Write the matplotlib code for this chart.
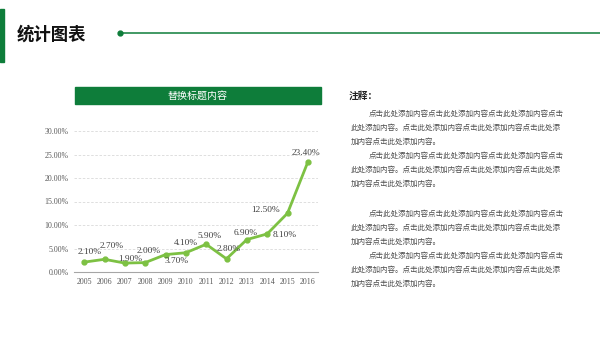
import matplotlib.pyplot as plt
from matplotlib.lines import Line2D
from matplotlib.patches import Rectangle

plt.rcParams["font.family"] = ["Noto Sans CJK SC", "DejaVu Sans"]

DARK_GREEN = "#0E7D3A"
LINE_GREEN = "#7DC143"
GREY_TXT = "#595959"

years = ["2005", "2006", "2007", "2008", "2009", "2010",
         "2011", "2012", "2013", "2014", "2015", "2016"]
rates = [2.1, 2.7, 1.9, 2.0, 3.7, 4.1, 5.9, 2.8, 6.9, 8.1, 12.5, 23.4]
rate_labels = ["2.10%", "2.70%", "1.90%", "2.00%", "3.70%", "4.10%",
               "5.90%", "2.80%", "6.90%", "8.10%", "12.50%", "23.40%"]
y_ticks = [0, 5, 10, 15, 20, 25, 30]

title = "统计图表"
chart_title = "替换标题内容"
note_head = "注释："
para_lines = [
    "点击此处添加内容点击此处添加内容点击此处添加内容点击",
    "此处添加内容。点击此处添加内容点击此处添加内容点击此处添",
    "加内容点击此处添加内容。",
]

# label offsets in pixels (dx, dy) relative to each point
offsets = [(6, 10), (7, 13), (5, 4), (4, 12), (11, -6), (0, 10),
           (3, 8), (2, 10), (-1, 7), (18, -1), (-22, 3), (-2, 9)]

W, H = 600, 338
fig = plt.figure(figsize=(6, 3.38), dpi=100)


def fx(px):
    return px / W


def fy(py):
    return 1 - py / H


# header
fig.patches.append(Rectangle((0, fy(62)), fx(4), (62 - 9) / H,
                             transform=fig.transFigure, color=DARK_GREEN))
fig.text(fx(17), fy(35), title, fontsize=12.5, fontweight="bold",
         va="center", ha="left", color="#111111")
fig.lines.append(Line2D([fx(120), 1], [fy(33), fy(33)], transform=fig.transFigure,
                        color=DARK_GREEN, lw=1.1))
fig.lines.append(Line2D([fx(120)], [fy(33)], transform=fig.transFigure,
                        marker="o", ms=3.5, color=DARK_GREEN))

# chart title box
fig.patches.append(Rectangle((fx(75), fy(104)), fx(246), 17 / H,
                             transform=fig.transFigure, color=DARK_GREEN))
fig.text(fx(198), fy(95.5), chart_title, fontsize=7.2, color="white",
         ha="center", va="center")

# line chart
ax = fig.add_axes([fx(74), fy(272), fx(244), (272 - 131) / H])
x = list(range(len(years)))
ax.plot(x, rates, color=LINE_GREEN, lw=2, marker="o", ms=3.5)
ax.set_xlim(-0.5, len(years) - 0.5)
ax.set_ylim(0, 30)
ax.set_yticks(y_ticks)
ax.set_yticklabels([f"{v:.2f}%" for v in y_ticks])
ax.set_xticks(x)
ax.set_xticklabels(years)
for lab in ax.get_xticklabels() + ax.get_yticklabels():
    lab.set_fontfamily("Liberation Serif")
    lab.set_color(GREY_TXT)
ax.tick_params(axis="y", labelsize=5.7, length=0, pad=4)
ax.tick_params(axis="x", labelsize=5.7, length=0, pad=4)
ax.grid(axis="y", color="#D9D9D9", ls=(0, (3, 2)), lw=0.6)
ax.set_axisbelow(True)
for s in ["top", "right", "left"]:
    ax.spines[s].set_visible(False)
ax.spines["bottom"].set_color("#A6A6A6")
ax.spines["bottom"].set_linewidth(0.8)

for xi, yi, lab, (dx, dy) in zip(x, rates, rate_labels, offsets):
    ax.annotate(lab, (xi, yi), xytext=(dx, dy), textcoords="offset pixels",
                ha="center", va="center", fontsize=6.7,
                family="Liberation Serif", color="#404040")

# notes on the right
fig.text(fx(349), fy(96), note_head, fontsize=7, fontweight="bold",
         ha="left", va="center", color="#222222")
line_h = 14
starts = [114, 156, 214, 256]
for y0 in starts:
    for i, line in enumerate(para_lines):
        x0 = 369 if i == 0 else 351
        fig.text(fx(x0), fy(y0 + i * line_h), line, fontsize=5.45,
                 ha="left", va="center", color="#4D4D4D")

fig.savefig("out.png", dpi=100)
